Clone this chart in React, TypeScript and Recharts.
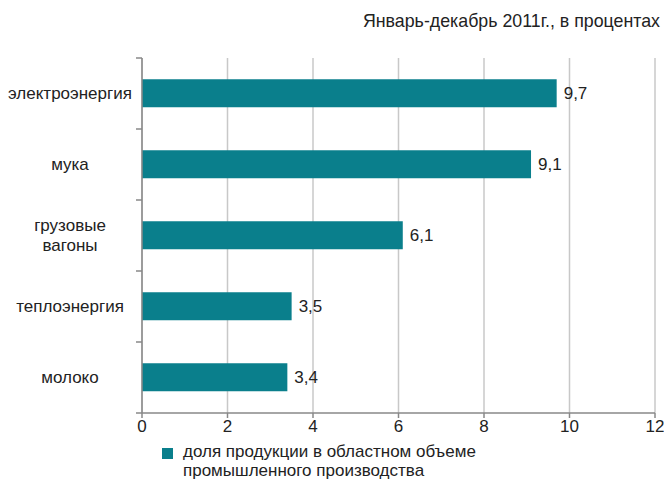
import React from 'react';
import { BarChart, Bar, XAxis, YAxis, CartesianGrid, LabelList } from 'recharts';

const categories = ['электроэнергия', 'мука', 'грузовые вагоны', 'теплоэнергия', 'молоко'];
const values = [9.7, 9.1, 6.1, 3.5, 3.4];
const xTicks = [0, 2, 4, 6, 8, 10, 12];
const title = 'Январь-декабрь 2011г., в процентах';
const seriesName = 'доля продукции в областном объеме промышленного производства';

const data = categories.map((c, i) => ({ name: c, value: values[i] }));

const TEAL = '#0a7f8c';
const FONT = '"Liberation Sans", Arial, sans-serif';
const TEXT = '#222';
const AXIS = '#888';
const Y_AXIS_WIDTH = 142;

const CatTick = (props: any) => {
  const { y, payload, index, visibleTicksCount } = props;
  const axisX = Y_AXIS_WIDTH;
  const label: string = payload.value;
  const half = payload.offset || 35.5;
  const lines = label === 'грузовые вагоны' ? ['грузовые', 'вагоны'] : [label];
  const lh = 20;
  const start = y - ((lines.length - 1) * lh) / 2;
  const isLast = index === (visibleTicksCount ?? categories.length) - 1;
  return (
    <g>
      <line x1={axisX - 6} x2={axisX} y1={y - half} y2={y - half} stroke={AXIS} strokeWidth={1.5} />
      {isLast && <line x1={axisX - 6} x2={axisX} y1={y + half} y2={y + half} stroke={AXIS} strokeWidth={1.5} />}
      <text x={70} y={start} textAnchor="middle" fontFamily={FONT} fontSize={17} fill={TEXT}>
        {lines.map((l, i) => (
          <tspan key={i} x={70} y={start + i * lh} dy="0.35em">{l}</tspan>
        ))}
      </text>
    </g>
  );
};

export default function App() {
  return (
    <div style={{ position: 'absolute', left: 0, top: 0, width: 664, height: 479, background: '#fff', fontFamily: FONT, overflow: 'hidden' }}>
      <div style={{ position: 'absolute', right: 4, top: 11, fontSize: 17.8, color: TEXT, whiteSpace: 'nowrap' }}>{title}</div>
      <BarChart
        width={664}
        height={479}
        data={data}
        layout="vertical"
        margin={{ top: 58, right: 9, left: 0, bottom: 36 }}
        barCategoryGap="30%"
      >
        <CartesianGrid horizontal={false} vertical={true} stroke="#c8c8c8" strokeWidth={1.5} />
        <XAxis
          type="number"
          domain={[0, 12]}
          ticks={xTicks}
          interval={0}
          height={30}
          axisLine={{ stroke: AXIS, strokeWidth: 1.5 }}
          tickLine={{ stroke: AXIS, strokeWidth: 1.5 }}
          tickSize={5}
          tick={{ fontFamily: FONT, fontSize: 17, fill: TEXT }}
        />
        <YAxis
          type="category"
          dataKey="name"
          width={Y_AXIS_WIDTH}
          interval={0}
          axisLine={{ stroke: AXIS, strokeWidth: 1.5 }}
          tickLine={false}
          tick={<CatTick />}
        />
        <Bar dataKey="value" fill={TEAL} isAnimationActive={false}>
          <LabelList
            dataKey="value"
            position="right"
            offset={7}
            formatter={(v: any) => String(v).replace('.', ',')}
            style={{ fontFamily: FONT, fontSize: 17, fill: TEXT }}
          />
        </Bar>
      </BarChart>
      <div style={{ position: 'absolute', left: 162, top: 448, width: 11, height: 11, background: TEAL }} />
      <div style={{ position: 'absolute', left: 183, top: 442, width: 340, fontSize: 17, lineHeight: '19px', color: TEXT }}>
        {seriesName}
      </div>
    </div>
  );
}
